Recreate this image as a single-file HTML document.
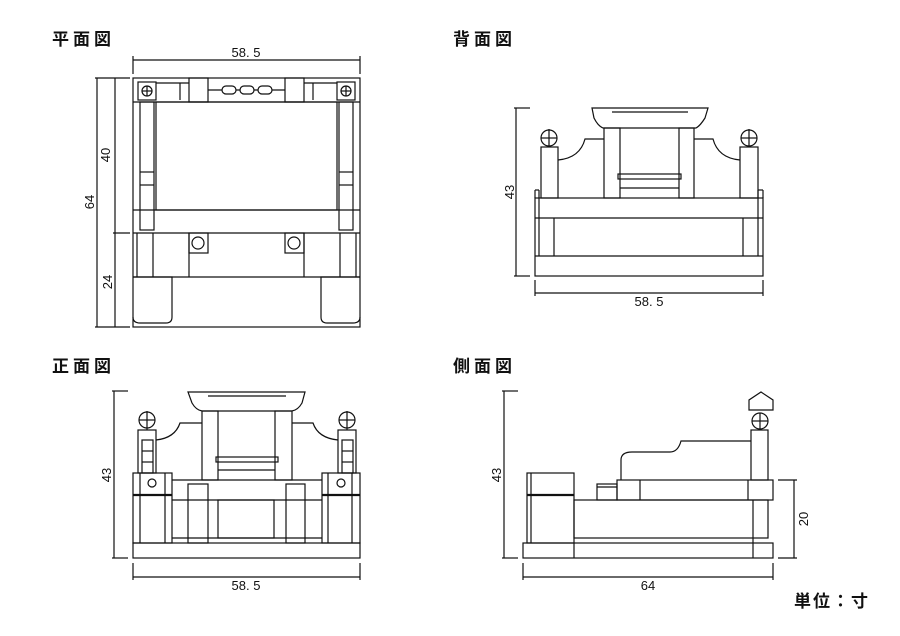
<!DOCTYPE html>
<html><head><meta charset="utf-8">
<style>
html,body{margin:0;padding:0;background:#fff;}
svg{display:block;}
.t{font-family:"Liberation Sans","Noto Sans CJK JP",sans-serif;font-size:17px;font-weight:bold;letter-spacing:4px;fill:#111;}
.d{font-family:"Liberation Sans","Noto Sans CJK JP",sans-serif;font-size:13px;fill:#111;}
</style></head>
<body>
<svg width="900" height="636" viewBox="0 0 900 636" xmlns="http://www.w3.org/2000/svg">
<g fill="none" stroke="#111" stroke-width="1.2">

<!-- ============ PLAN VIEW ============ -->
<line x1="133" y1="60" x2="360" y2="60"/>
<line x1="133" y1="56" x2="133" y2="74"/><line x1="360" y1="56" x2="360" y2="74"/>
<line x1="97" y1="78" x2="97" y2="327"/><line x1="115" y1="78" x2="115" y2="327"/>
<line x1="95" y1="78" x2="130" y2="78"/><line x1="95" y1="327" x2="130" y2="327"/>
<line x1="113" y1="233" x2="130" y2="233"/>
<rect x="133" y="78" width="227" height="249"/>
<line x1="133" y1="102" x2="360" y2="102"/>
<rect x="189" y="78" width="19" height="24"/><rect x="285" y="78" width="19" height="24"/>
<line x1="208" y1="90" x2="285" y2="90"/>
<line x1="156" y1="83" x2="189" y2="83"/><line x1="304" y1="83" x2="337" y2="83"/>
<line x1="180" y1="83" x2="180" y2="100"/><line x1="313" y1="83" x2="313" y2="100"/>
<rect x="222" y="86" width="14" height="8" rx="4" fill="#fff"/>
<rect x="240" y="86" width="14" height="8" rx="4" fill="#fff"/>
<rect x="258" y="86" width="14" height="8" rx="4" fill="#fff"/>
<rect x="138" y="82" width="18" height="18"/><circle cx="147" cy="91" r="5"/>
<line x1="142" y1="91" x2="152" y2="91"/><line x1="147" y1="86" x2="147" y2="96"/>
<rect x="337" y="82" width="18" height="18"/><circle cx="346" cy="91" r="5"/>
<line x1="341" y1="91" x2="351" y2="91"/><line x1="346" y1="86" x2="346" y2="96"/>
<rect x="156" y="102" width="181" height="108"/>
<line x1="133" y1="210" x2="360" y2="210"/>
<rect x="140" y="102" width="14" height="128"/><line x1="140" y1="172" x2="154" y2="172"/><line x1="140" y1="185" x2="154" y2="185"/>
<rect x="339" y="102" width="14" height="128"/><line x1="339" y1="172" x2="353" y2="172"/><line x1="339" y1="185" x2="353" y2="185"/>
<line x1="133" y1="233" x2="360" y2="233"/>
<line x1="133" y1="277" x2="360" y2="277"/>
<line x1="137" y1="233" x2="137" y2="277"/><line x1="153" y1="233" x2="153" y2="277"/>
<line x1="189" y1="233" x2="189" y2="277"/><line x1="304" y1="233" x2="304" y2="277"/>
<line x1="340" y1="233" x2="340" y2="277"/><line x1="356" y1="233" x2="356" y2="277"/>
<rect x="189" y="233" width="19" height="20"/><circle cx="198" cy="243" r="6"/>
<rect x="285" y="233" width="19" height="20"/><circle cx="294" cy="243" r="6"/>
<path d="M133 277 H172 V317 Q172 323 166 323 H140 Q133 323 133 317"/>
<path d="M360 277 H321 V317 Q321 323 327 323 H353 Q360 323 360 317"/>

<!-- ============ BACK VIEW ============ -->
<line x1="516" y1="108" x2="516" y2="276"/>
<line x1="514" y1="108" x2="530" y2="108"/><line x1="514" y1="276" x2="530" y2="276"/>
<line x1="535" y1="293" x2="763" y2="293"/>
<line x1="535" y1="280" x2="535" y2="296"/><line x1="763" y1="280" x2="763" y2="296"/>
<rect x="535" y="198" width="228" height="78"/>
<line x1="535" y1="218" x2="763" y2="218"/><line x1="535" y1="256" x2="763" y2="256"/>
<line x1="539" y1="190" x2="539" y2="256"/><line x1="554" y1="218" x2="554" y2="256"/>
<line x1="743" y1="218" x2="743" y2="256"/><line x1="758" y1="190" x2="758" y2="256"/>
<line x1="535" y1="190" x2="539" y2="190"/><line x1="758" y1="190" x2="763" y2="190"/>
<line x1="535" y1="190" x2="535" y2="198"/><line x1="763" y1="190" x2="763" y2="198"/>
<rect x="541" y="147" width="17" height="51"/><rect x="740" y="147" width="18" height="51"/>
<circle cx="549" cy="138" r="8"/><line x1="541" y1="138" x2="557" y2="138"/><line x1="549" y1="129" x2="549" y2="147"/>
<circle cx="749" cy="138" r="8"/><line x1="741" y1="138" x2="757" y2="138"/><line x1="749" y1="129" x2="749" y2="147"/>
<path d="M558 160 Q580 158 585 139 H604"/>
<path d="M740 160 Q718 158 713 139 H694"/>
<rect x="604" y="128" width="16" height="70"/><rect x="679" y="128" width="15" height="70"/>
<path d="M592 108 H708 L705 118 Q700 126 696 128 H603 Q598 126 594 118 Z"/>
<path d="M612 112 H688"/>
<rect x="618" y="174" width="63" height="5"/>
<line x1="620" y1="188" x2="679" y2="188"/>

<!-- ============ FRONT VIEW ============ -->
<line x1="114" y1="391" x2="114" y2="558"/>
<line x1="112" y1="391" x2="128" y2="391"/><line x1="112" y1="558" x2="128" y2="558"/>
<line x1="133" y1="577" x2="360" y2="577"/>
<line x1="133" y1="563" x2="133" y2="580"/><line x1="360" y1="563" x2="360" y2="580"/>
<rect x="133" y="543" width="227" height="15"/>
<path d="M188 392 H305 L302 403 Q298 410 292 411 H202 Q196 410 192 403 Z"/>
<line x1="208" y1="396" x2="286" y2="396"/>
<rect x="202" y="411" width="16" height="69"/><rect x="275" y="411" width="17" height="69"/>
<rect x="216" y="457" width="62" height="5"/>
<line x1="218" y1="470" x2="275" y2="470"/>
<path d="M156 440 Q175 438 180 423 H202"/><path d="M338 440 Q318 438 313 423 H292"/>
<rect x="138" y="430" width="18" height="43"/><rect x="338" y="430" width="18" height="43"/>
<rect x="142" y="440" width="11" height="33"/><line x1="142" y1="451" x2="153" y2="451"/><line x1="142" y1="462" x2="153" y2="462"/>
<rect x="342" y="440" width="11" height="33"/><line x1="342" y1="451" x2="353" y2="451"/><line x1="342" y1="462" x2="353" y2="462"/>
<circle cx="147" cy="420" r="8"/><line x1="139" y1="420" x2="155" y2="420"/><line x1="147" y1="411" x2="147" y2="430"/>
<circle cx="347" cy="420" r="8"/><line x1="339" y1="420" x2="355" y2="420"/><line x1="347" y1="411" x2="347" y2="430"/>
<rect x="133" y="473" width="39" height="70"/><line x1="133" y1="495" x2="172" y2="495" stroke-width="2.2"/>
<line x1="140" y1="473" x2="140" y2="543"/><line x1="165" y1="473" x2="165" y2="543"/>
<circle cx="152" cy="483" r="4"/>
<rect x="322" y="473" width="38" height="70"/><line x1="322" y1="495" x2="360" y2="495" stroke-width="2.2"/>
<line x1="328" y1="473" x2="328" y2="543"/><line x1="352" y1="473" x2="352" y2="543"/>
<circle cx="341" cy="483" r="4"/>
<line x1="172" y1="480" x2="322" y2="480"/><line x1="172" y1="500" x2="322" y2="500"/>
<rect x="188" y="484" width="20" height="59"/><rect x="286" y="484" width="19" height="59"/>
<rect x="218" y="500" width="56" height="38"/>
<line x1="172" y1="538" x2="322" y2="538"/>

<!-- ============ SIDE VIEW ============ -->
<line x1="504" y1="391" x2="504" y2="558"/>
<line x1="502" y1="391" x2="518" y2="391"/><line x1="502" y1="558" x2="518" y2="558"/>
<line x1="794" y1="480" x2="794" y2="558"/>
<line x1="778" y1="480" x2="797" y2="480"/><line x1="778" y1="558" x2="797" y2="558"/>
<line x1="523" y1="577" x2="773" y2="577"/>
<line x1="523" y1="563" x2="523" y2="580"/><line x1="773" y1="563" x2="773" y2="580"/>
<rect x="523" y="543" width="250" height="15"/>
<line x1="574" y1="543" x2="574" y2="558"/><line x1="753" y1="538" x2="753" y2="558"/>
<rect x="527" y="473" width="47" height="70"/><line x1="527" y1="495" x2="574" y2="495" stroke-width="2.2"/>
<line x1="531" y1="473" x2="531" y2="543"/>
<rect x="574" y="500" width="194" height="38"/>
<line x1="753" y1="500" x2="753" y2="538"/>
<rect x="617" y="480" width="156" height="20"/>
<line x1="640" y1="480" x2="640" y2="500"/><line x1="748" y1="480" x2="748" y2="500"/>
<rect x="597" y="484" width="20" height="16"/><line x1="597" y1="487" x2="617" y2="487"/>
<path d="M621 480 V460 Q621 452 632 452 H670 Q678 452 681 441 H751"/>
<rect x="751" y="430" width="17" height="50"/>
<circle cx="760" cy="421" r="8"/><line x1="752" y1="421" x2="768" y2="421"/><line x1="760" y1="413" x2="760" y2="429"/>
<path d="M749 410 V400 L761 392 L773 400 V410 Z"/>
</g>

<g>
<text class="t" x="52" y="45">平面図</text>
<text class="t" x="453" y="45">背面図</text>
<text class="t" x="52" y="372">正面図</text>
<text class="t" x="453" y="372">側面図</text>
<text class="t" x="794" y="607" style="letter-spacing:2px">単位：寸</text>

<text class="d" x="246" y="57" text-anchor="middle">58. 5</text>
<text class="d" transform="translate(110,155) rotate(-90)" text-anchor="middle">40</text>
<text class="d" transform="translate(94,202) rotate(-90)" text-anchor="middle">64</text>
<text class="d" transform="translate(112,282) rotate(-90)" text-anchor="middle">24</text>
<text class="d" x="649" y="306" text-anchor="middle">58. 5</text>
<text class="d" transform="translate(514,192) rotate(-90)" text-anchor="middle">43</text>
<text class="d" x="246" y="590" text-anchor="middle">58. 5</text>
<text class="d" transform="translate(111,475) rotate(-90)" text-anchor="middle">43</text>
<text class="d" x="648" y="590" text-anchor="middle">64</text>
<text class="d" transform="translate(501,475) rotate(-90)" text-anchor="middle">43</text>
<text class="d" transform="translate(808,519) rotate(-90)" text-anchor="middle">20</text>
</g>
</svg>
</body></html>
